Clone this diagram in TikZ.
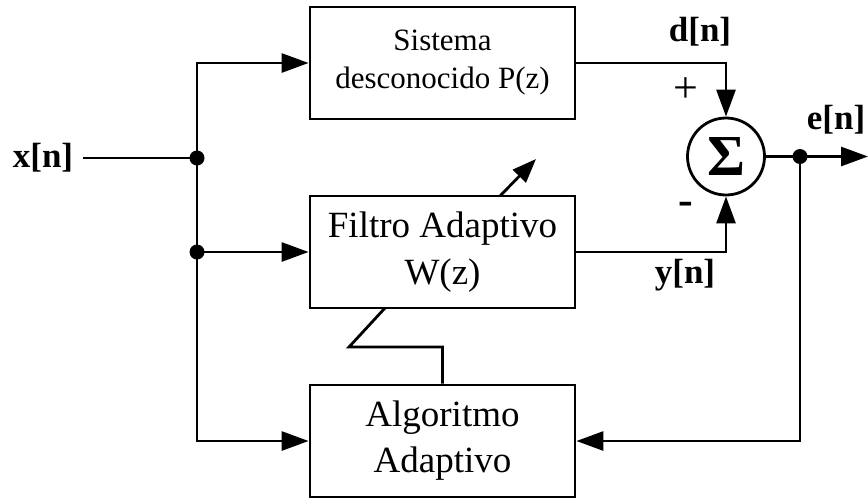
\documentclass[tikz,border=0pt]{standalone}
\usepackage{fontspec}
\setmainfont{Liberation Serif}
\usetikzlibrary{arrows.meta}
\begin{document}
\begin{tikzpicture}[x=1pt,y=-1pt,
  blk/.style={draw,line width=2.8pt,minimum width=265pt,minimum height=112pt,inner sep=0pt,align=center},
  wire/.style={line width=2.8pt},
  arr/.style={wire,-{Triangle[length=27pt,width=19pt]}},
  jdot/.style={circle,fill,inner sep=0pt,minimum size=15pt},
  lab/.style={font=\bfseries\fontsize{35}{40}\selectfont,inner sep=0pt},
  sgn/.style={font=\fontsize{44}{48}\selectfont,inner sep=0pt}]
\useasboundingbox (0,0) rectangle (868,499);
% blocks
\node[blk,font=\fontsize{31}{38}\selectfont] (top) at (442.5,63) {Sistema\\desconocido P(z)};
\node[blk,font=\fontsize{37}{47}\selectfont] (mid) at (442.5,252) {Filtro Adaptivo\\W(z)};
\node[blk,font=\fontsize{37}{46}\selectfont] (bot) at (442.5,441) {Algoritmo\\Adaptivo};
\node[draw,circle,line width=2.8pt,minimum size=77pt,inner sep=0pt,font=\bfseries\fontsize{58}{60}\selectfont] (s) at (726,156.5) {Σ};
% labels
\node[lab] (x) at (43,158) {x[n]};
\node[lab] (d) at (700,32) {d[n]};
\node[lab] (y) at (685,275) {y[n]};
\node[lab] (e) at (836,120) {e[n]};
\node[sgn] (plus) at (685.5,90.5) {+};
\node[sgn,font=\bfseries\fontsize{44}{48}\selectfont] (minus) at (685.5,208) {-};
% junctions
\node[jdot] (j1) at (197,158) {};
\node[jdot] (j2) at (197,252) {};
\node[jdot] (j3) at (800,156.5) {};
\coordinate (xs) at (83,158);
\coordinate (out) at (868,156.5);
\coordinate (a1) at (500,196);
\coordinate (a2) at (536,159);
\coordinate (z2) at (349,347);
\coordinate (z3) at (385,308);
% wires
\draw[wire] (xs) -- (j1.center);
\draw[wire] (j1.center) -- (j2.center);
\draw[arr] (j1.center) |- (top.west);
\draw[arr] (j2.center) -- (mid.west);
\draw[arr] (j2.center) |- (bot.west);
\draw[arr] (top.east) -| (s.north);
\draw[arr] (mid.east) -| (s.south);
\draw[arr] (s.east) -- (out);
\draw[arr] (j3.center) |- (bot.east);
\draw[wire,-{Triangle[length=24pt,width=18pt]}] (a1) -- (a2);
\draw[wire] (bot.north) |- (z2) -- (z3);
\end{tikzpicture}
\end{document}
